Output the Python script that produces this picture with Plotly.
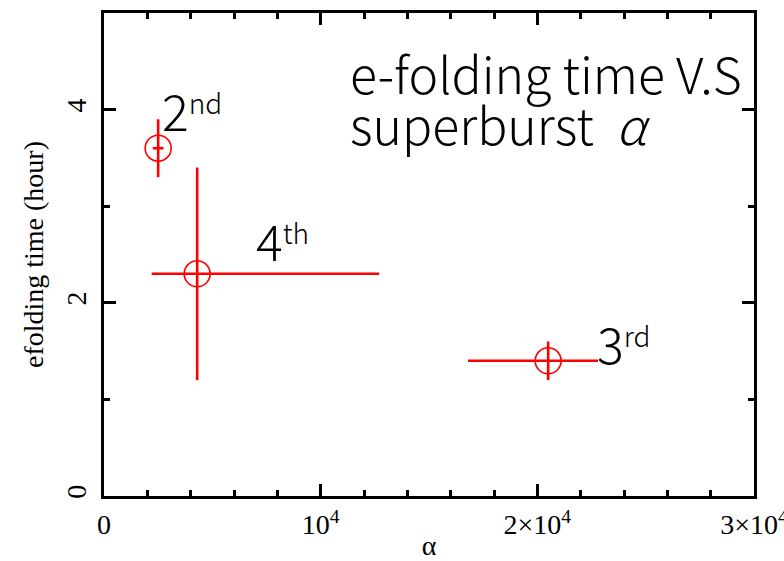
import plotly.graph_objects as go

# data
labels = ["2nd", "3rd", "4th"]
alpha = [2500, 20500, 4300]
alpha_err_plus = [250, 2300, 8400]
alpha_err_minus = [250, 3700, 2100]
efold = [3.6, 1.4, 2.3]
efold_err = [0.3, 0.2, 1.1]

label_main = ["2", "3", "4"]
label_sup = ["nd", "rd", "th"]
label_x = [2600, 22650, 6900]
label_y = [4.01, 1.59, 2.66]

title_lines = ["e-folding time V.S", "superburst  <i>α</i>"]
title_x = 11250
title_y = [4.39, 3.86]

xtick_vals = [0, 10000, 20000, 30000]
xtick_text = ["0", "10<sup>4</sup>", "2×10<sup>4</sup>", "3×10<sup>4</sup>"]
ytick_vals = [0, 2, 4]

RED = "#ff0000"
SERIF = "Liberation Serif"
SANS = "Noto Sans CJK JP"

fig = go.Figure()
fig.add_trace(go.Scatter(
    x=alpha, y=efold, mode="markers",
    marker=dict(symbol="circle-open", size=26, color=RED, line=dict(width=1.6, color=RED)),
    error_x=dict(type="data", symmetric=False, array=alpha_err_plus, arrayminus=alpha_err_minus,
                 color=RED, thickness=2.6, width=0),
    error_y=dict(type="data", array=efold_err, color=RED, thickness=2.6, width=0),
    showlegend=False, hoverinfo="skip",
))

for m, s, x, y in zip(label_main, label_sup, label_x, label_y):
    fig.add_annotation(x=x, y=y, text=f"<span style='font-size:50px'>{m}</span><sup>{s}</sup>",
                       showarrow=False, xanchor="left", yanchor="middle",
                       font=dict(family=SANS, size=40, color="black", weight=300))

for line, y in zip(title_lines, title_y):
    fig.add_annotation(x=title_x, y=y, text=line, showarrow=False, xanchor="left", yanchor="middle",
                       align="left", font=dict(family=SANS, size=50, color="black", weight=300))

axis_common = dict(showline=True, linewidth=2.5, linecolor="black", mirror="ticks",
                   ticks="inside", ticklen=12, tickwidth=2.5, tickcolor="black",
                   showgrid=False, zeroline=False, automargin=False,
                   ticklabeloverflow="allow",
                   tickfont=dict(family=SERIF, size=28, color="black"))

fig.update_xaxes(range=[0, 30000], tickvals=xtick_vals, ticktext=xtick_text, ticklabelstandoff=2,
                 minor=dict(ticks="inside", ticklen=6, tickwidth=2.5, tickcolor="black", dtick=2000, tick0=0),
                 title=dict(text="α", font=dict(family=SERIF, size=28, color="black"), standoff=8),
                 **axis_common)
fig.update_yaxes(range=[0, 5], tickvals=ytick_vals, tickangle=-90, ticklabelstandoff=4,
                 minor=dict(ticks="inside", ticklen=6, tickwidth=2.5, tickcolor="black", dtick=1, tick0=0),
                 title=dict(text="efolding time (hour)", font=dict(family=SERIF, size=28, color="black"), standoff=10),
                 **axis_common)

fig.update_layout(width=784, height=561, margin=dict(l=104, r=30, t=13, b=65),
                  plot_bgcolor="white", paper_bgcolor="white")

fig.write_html("out.html")
